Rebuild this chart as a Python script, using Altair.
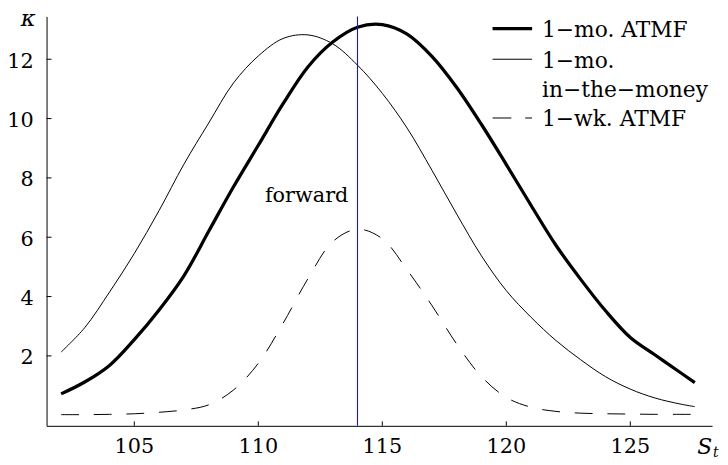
import altair as alt
import pandas as pd

# ---- data ----
spot = [102.05, 103, 104, 105, 106, 107, 108, 109, 110, 111, 112, 113, 114,
        115, 116, 117, 118, 119, 120, 121, 122, 123, 124, 125, 126, 127, 127.6]
atmf_1mo = [0.72, 1.12, 1.68, 2.55, 3.55, 4.7, 6.2, 7.7, 9.1, 10.5, 11.74, 12.58, 13.08,
            13.17, 12.85, 12.1, 11.05, 9.8, 8.45, 7.07, 5.73, 4.58, 3.52, 2.62, 2.03, 1.45, 1.1]
itm_1mo = [2.13, 2.95, 4.15, 5.45, 6.9, 8.46, 9.85, 11.2, 12.11, 12.7, 12.82, 12.52, 11.8,
           10.85, 9.68, 8.26, 6.78, 5.37, 4.2, 3.3, 2.52, 1.87, 1.3, 0.88, 0.58, 0.38, 0.29]
atmf_1wk = [0.02, 0.02, 0.03, 0.05, 0.1, 0.18, 0.35, 0.85, 1.75, 3.1, 4.6, 5.85, 6.27,
            5.95, 4.9, 3.7, 2.4, 1.3, 0.6, 0.27, 0.13, 0.07, 0.05, 0.04, 0.03, 0.03, 0.03]
forward = [114]
forward_label = ["forward"]
forward_label_pos = [111.95]
forward_label_y = [7.19]
x_ticks = [105, 110, 115, 120, 125]
x_tick_labels = ["105", "110", "115", "120", "125"]
y_ticks = [2, 4, 6, 8, 10, 12]
y_tick_labels = ["2", "4", "6", "8", "10", "12"]
legend_labels = ["1\u2212mo. ATMF", "1\u2212mo.", "in\u2212the\u2212money", "1\u2212wk. ATMF"]

FONT = "DejaVu Serif"
FS = 21
W, H = 673, 414

xscale = alt.Scale(domain=[101.463, 128.297], nice=False, zero=False)
yscale = alt.Scale(domain=[-0.357, 13.443], nice=False, zero=False)

axis_common = dict(ticks=False, tickSize=0, grid=False, title=None, labels=False,
                   domainColor="black", domainWidth=1)
x_axis = alt.Axis(values=x_ticks, **axis_common)
y_axis = alt.Axis(values=y_ticks, **axis_common)


def X(field):
    return alt.X(field, scale=xscale, axis=x_axis)


def Y(field):
    return alt.Y(field, scale=yscale, axis=y_axis)


def curve(vals, width, dash=None):
    df = pd.DataFrame({"S": spot, "k": vals})
    kw = dict(color="black", strokeWidth=width, interpolate="catmull-rom")
    if dash:
        kw["strokeDash"] = dash
    return alt.Chart(df).mark_line(**kw).encode(x=X("S:Q"), y=Y("k:Q"))


thick = curve(atmf_1mo, 3.3)
thin = curve(itm_1mo, 1)
dashed = curve(atmf_1wk, 1, dash=[18, 15])

one = pd.DataFrame({"a": [0]})

fwd_line = alt.Chart(pd.DataFrame({"S": forward})).mark_rule(
    color="#1515d0", strokeWidth=1.1).encode(x=X("S:Q"))

fwd_text = alt.Chart(pd.DataFrame({"S": forward_label_pos, "k": forward_label_y,
                                   "t": forward_label})).mark_text(
    font=FONT, fontSize=FS, align="center", baseline="alphabetic", color="black"
).encode(x=X("S:Q"), y=Y("k:Q"), text="t:N")

# inward tick marks
yt = alt.Chart(pd.DataFrame({"k": y_ticks})).mark_rule(color="black", strokeWidth=1).encode(
    y=Y("k:Q"), x=alt.value(0), x2=alt.value(5))
xt = alt.Chart(pd.DataFrame({"S": x_ticks})).mark_rule(color="black", strokeWidth=1).encode(
    x=X("S:Q"), y=alt.value(H), y2=alt.value(H - 4.5))

# tick labels
ytl = alt.Chart(pd.DataFrame({"k": y_ticks, "lab": y_tick_labels})).mark_text(
    font=FONT, fontSize=FS, align="right", baseline="alphabetic", dy=8.6, color="black"
).encode(y=Y("k:Q"), x=alt.value(-13), text="lab:N")
xtl = alt.Chart(pd.DataFrame({"S": x_ticks, "lab": x_tick_labels})).mark_text(
    font=FONT, fontSize=FS, align="center", baseline="alphabetic", color="black"
).encode(x=X("S:Q"), y=alt.value(441), text="lab:N")

# legend (manual)
leg_thick = alt.Chart(one).mark_rule(color="black", strokeWidth=3.3).encode(
    x=alt.value(451), x2=alt.value(491), y=alt.value(12.3))
leg_thin = alt.Chart(one).mark_rule(color="black", strokeWidth=1).encode(
    x=alt.value(451), x2=alt.value(491), y=alt.value(43.3))
leg_dash = alt.Chart(one).mark_rule(color="black", strokeWidth=1, strokeDash=[19, 14]).encode(
    x=alt.value(451), x2=alt.value(491), y=alt.value(102.7))

leg_texts = []
for lab, yy in zip(legend_labels, [21, 51.7, 81.7, 111]):
    leg_texts.append(alt.Chart(one).mark_text(
        text=lab, font=FONT, fontSize=22, align="left", baseline="alphabetic", color="black"
    ).encode(x=alt.value(501), y=alt.value(yy)))

kappa = alt.Chart(one).mark_text(
    text="\u03ba", font=FONT, fontSize=23, fontStyle="italic", align="left",
    baseline="alphabetic", color="black").encode(x=alt.value(-26), y=alt.value(10))
s_lab = alt.Chart(one).mark_text(
    text="S", font=FONT, fontSize=22, fontStyle="italic", align="left",
    baseline="alphabetic", color="black").encode(x=alt.value(658), y=alt.value(442))
t_lab = alt.Chart(one).mark_text(
    text="t", font=FONT, fontSize=14, fontStyle="italic", align="left",
    baseline="alphabetic", color="black").encode(x=alt.value(674), y=alt.value(446))

chart = alt.layer(
    thick, thin, dashed, fwd_line, fwd_text, yt, xt, ytl, xtl,
    leg_thick, leg_thin, leg_dash, *leg_texts, kappa, s_lab, t_lab
).properties(
    width=W, height=H,
    padding={"left": 39, "top": 6, "right": 8, "bottom": 29},
    autosize=alt.AutoSizeParams(type="none"),
    background="white",
).configure_view(stroke=None)

chart.save("out.html", embed_options={"renderer": "svg", "actions": False})
